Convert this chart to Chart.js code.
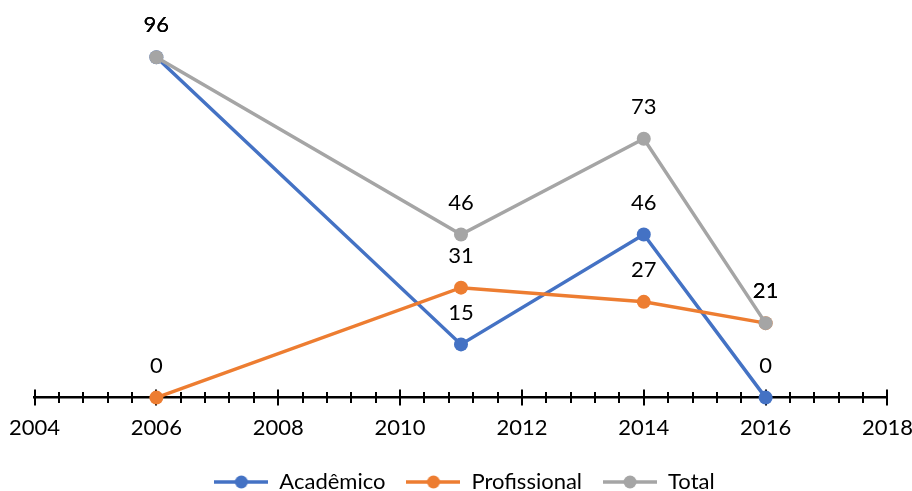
<!DOCTYPE html>
<html lang="pt">
<head>
  <meta charset="UTF-8">
  <title>Acadêmico, Profissional e Total por ano</title>
  <script src="https://cdn.jsdelivr.net/npm/chart.js@4.4.4/dist/chart.umd.min.js"></script>
  <style>
    html, body { margin: 0; padding: 0; background: #fff; overflow: hidden; }
    #wrap { width: 922px; height: 491px; }
  </style>
</head>
<body>
  <div id="wrap"><canvas id="lineChart"></canvas></div>
  <script>
    // valores por ano
    const years = [2006, 2011, 2014, 2016];
    const academico = [96, 15, 46, 0];
    const profissional = [0, 31, 27, 21];
    const total = [96, 46, 73, 21];
    const seriesNames = ['Acadêmico', 'Profissional', 'Total'];
    const seriesColors = ['#4472C4', '#ED7D31', '#A5A5A5'];

    const FONT = 'Lato, "Open Sans", sans-serif';
    const FONT_SIZE = 22;

    function toPoints(vals) {
      return vals.map((v, i) => ({ x: years[i], y: v }));
    }

    // icone da legenda: linha com marcador no meio
    function legendIcon(color) {
      const c = document.createElement('canvas');
      c.width = 54; c.height = 16;
      const g = c.getContext('2d');
      g.strokeStyle = color;
      g.lineWidth = 3.5;
      g.beginPath(); g.moveTo(0, 8); g.lineTo(54, 8); g.stroke();
      g.fillStyle = color;
      g.beginPath(); g.arc(27, 8, 6.5, 0, Math.PI * 2); g.fill();
      return c;
    }

    // marcas do eixo x cruzando a linha
    const crossTicks = {
      id: 'crossTicks',
      beforeDatasetsDraw(chart) {
        const sx = chart.scales.x;
        const y0 = chart.chartArea.bottom;
        const ctx = chart.ctx;
        ctx.save();
        ctx.strokeStyle = '#000';
        ctx.lineWidth = 2;
        sx.ticks.forEach(t => {
          const px = Math.round(sx.getPixelForValue(t.value));
          const major = Math.abs(t.value - Math.round(t.value)) < 1e-6 && Math.round(t.value) % 2 === 0;
          const h = major ? 8 : 5.5;
          ctx.beginPath();
          ctx.moveTo(px, y0 - h);
          ctx.lineTo(px, y0 + h);
          ctx.stroke();
        });
        ctx.restore();
      }
    };

    // rótulos de valor acima de cada ponto
    const valueLabels = {
      id: 'valueLabels',
      afterDatasetsDraw(chart) {
        const ctx = chart.ctx;
        ctx.save();
        ctx.fillStyle = '#000';
        ctx.font = FONT_SIZE + 'px ' + FONT;
        ctx.textAlign = 'center';
        ctx.textBaseline = 'middle';
        chart.data.datasets.forEach((ds, i) => {
          const meta = chart.getDatasetMeta(i);
          meta.data.forEach((el, j) => {
            ctx.fillText(String(ds.data[j].y), el.x, el.y - 32);
          });
        });
        ctx.restore();
      }
    };

    const seriesValues = [academico, profissional, total];
    const datasets = seriesValues.map((vals, i) => ({
      label: seriesNames[i],
      data: toPoints(vals),
      borderColor: seriesColors[i],
      backgroundColor: seriesColors[i],
      pointBackgroundColor: seriesColors[i],
      pointBorderColor: seriesColors[i],
      borderWidth: 3.5,
      pointRadius: 7,
      pointBorderWidth: 0,
      pointHoverRadius: 7,
      tension: 0,
      clip: false,
      order: 3 - i
    }));

    new Chart(document.getElementById('lineChart'), {
      type: 'line',
      data: { datasets },
      plugins: [crossTicks, valueLabels],
      options: {
        responsive: true,
        maintainAspectRatio: false,
        animation: false,
        layout: { padding: { top: 43, left: 7, right: 0, bottom: -12 } },
        scales: {
          x: {
            type: 'linear',
            min: 2004,
            max: 2018,
            grid: { display: true, drawOnChartArea: false, drawTicks: true, tickLength: 8, color: 'rgba(0,0,0,0)' },
            border: { display: true, color: '#000', width: 2.5 },
            ticks: {
              stepSize: 0.4,
              maxTicksLimit: 100,
              autoSkip: false,
              maxRotation: 0,
              padding: 9,
              color: '#000',
              font: { family: FONT, size: FONT_SIZE },
              callback(v) {
                const r = Math.round(v);
                return (Math.abs(v - r) < 1e-6 && r % 2 === 0) ? String(r) : '';
              }
            }
          },
          y: {
            display: false,
            min: 0,
            max: 100
          }
        },
        plugins: {
          tooltip: { enabled: false },
          legend: {
            position: 'bottom',
            labels: {
              usePointStyle: true,
              pointStyleWidth: 54,
              padding: 21,
              color: '#000',
              font: { family: FONT, size: FONT_SIZE },
              sort: (a, b) => a.datasetIndex - b.datasetIndex,
              generateLabels(chart) {
                return chart.data.datasets.map((ds, i) => ({
                  text: ds.label,
                  datasetIndex: i,
                  pointStyle: legendIcon(seriesColors[i]),
                  fillStyle: seriesColors[i],
                  strokeStyle: seriesColors[i],
                  lineWidth: 0,
                  fontColor: '#000',
                  hidden: false
                }));
              }
            }
          }
        }
      }
    });
  </script>
</body>
</html>
